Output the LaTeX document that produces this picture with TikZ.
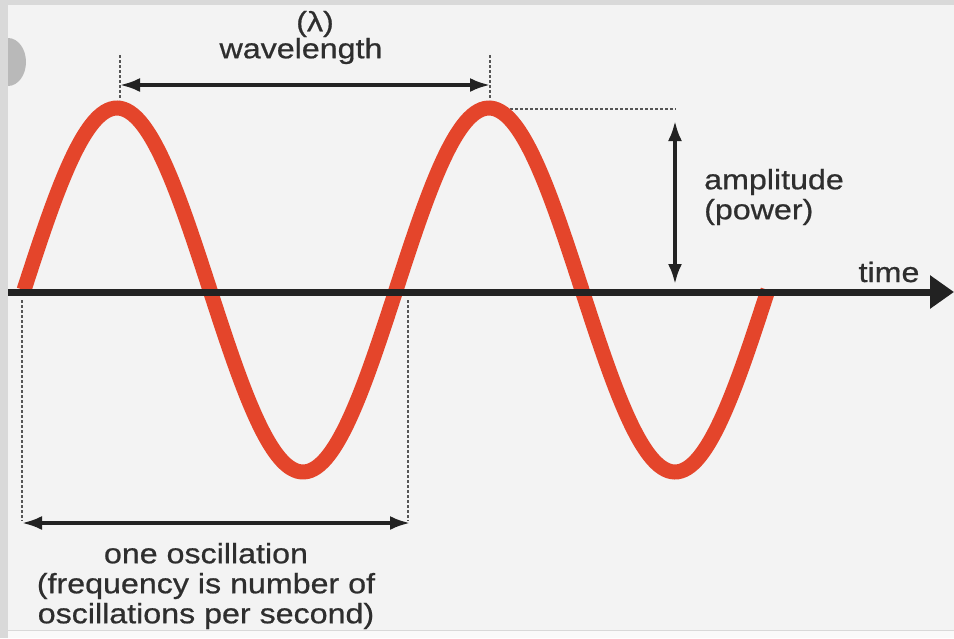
\documentclass[tikz,border=0pt]{standalone}
\usepackage{fontspec}
\setmainfont[FakeStretch=1.15,FakeBold=0.7]{Liberation Sans}
\usetikzlibrary{arrows.meta}
\definecolor{bgc}{HTML}{F3F3F3}
\definecolor{sidec}{HTML}{D9D9D9}
\definecolor{semic}{HTML}{B9B9B9}
\definecolor{wavec}{HTML}{E4452B}
\definecolor{inkc}{HTML}{222222}
\definecolor{txtc}{HTML}{2E2E2E}
\definecolor{dotc}{HTML}{555555}
\tikzset{
  lbl/.style={inner sep=0pt, text=txtc, font=\fontsize{28}{30}\selectfont},
  dimline/.style={draw=inkc, line width=3.4pt, {Latex[length=20pt,width=14pt]}-{Latex[length=20pt,width=14pt]}},
  guide/.style={draw=dotc, line width=1.4pt, dash pattern=on 2.5pt off 2.5pt},
  axisline/.style={draw=inkc, line width=7pt, -{Triangle[length=24pt,width=32pt]}},
  wavestyle/.style={draw=wavec, line width=15pt}
}
\begin{document}
\begin{tikzpicture}[x=1pt,y=-1pt]
\useasboundingbox (0,0) rectangle (954,638);
\fill[bgc] (0,0) rectangle (954,638);
\fill[sidec] (0,0) rectangle (8,638);
\fill[sidec] (0,0) rectangle (954,5);
\fill[white!60!bgc] (8,631) rectangle (954,638);
\draw[sidec, line width=1.5pt] (8,630.5) -- (954,630.5);
\begin{scope}
  \clip (8,0) rectangle (60,120);
  \fill[semic] (8,62) ellipse [x radius=18pt, y radius=24pt];
\end{scope}

% guides
\coordinate (g1t) at (120,55);  \coordinate (g1b) at (120,100);
\coordinate (g2t) at (490,55);  \coordinate (g2b) at (490,100);
\coordinate (h1) at (505,109);  \coordinate (h2) at (676,109);
\coordinate (g3t) at (22,300);  \coordinate (g3b) at (22,521);
\coordinate (g4t) at (408,300); \coordinate (g4b) at (408,521);
\draw[guide] (g1t) -- (g1b);
\draw[guide] (g2t) -- (g2b);
\draw[guide] (h1) -- (h2);
\draw[guide] (g3t) -- (g3b);
\draw[guide] (g4t) -- (g4b);

% wave
\draw[wavestyle] plot[domain=24:768, samples=240, smooth] (\x, {290-182*sin((\x-24)*0.967742)});

% axis
\coordinate (ax0) at (8,292);
\coordinate (axE) at (954,292);
\draw[axisline] (ax0) -- (axE);

% dimension arrows
\coordinate (wlL) at (120,85); \coordinate (wlR) at (490,85);
\draw[dimline] (wlL) -- (wlR);
\coordinate (amT) at (675,121); \coordinate (amB) at (675,284);
\draw[dimline] (amT) -- (amB);
\coordinate (osL) at (22,523); \coordinate (osR) at (410,523);
\draw[dimline] (osL) -- (osR);

% labels
\node[lbl] (lam) at (315,24) {(λ)};
\node[lbl] (wl) at (301,51) {wavelength};
\node[lbl, anchor=west] (amp) at (704,182) {amplitude};
\node[lbl, anchor=west] (pow) at (704,212) {(power)};
\node[lbl] (time) at (889,272) {time};
\node[lbl, align=center] (osc) at (206,586) {one oscillation\\(frequency is number of\\oscillations per second)};
\end{tikzpicture}
\end{document}
